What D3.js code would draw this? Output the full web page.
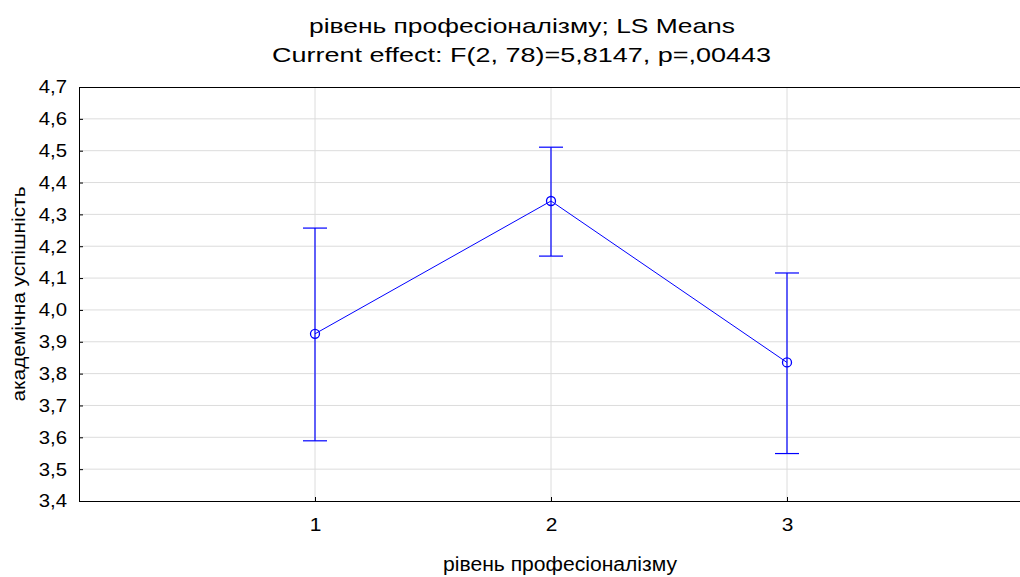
<!DOCTYPE html>
<html><head><meta charset="utf-8">
<script src="https://cdn.jsdelivr.net/npm/d3@7"></script>
<style>body{margin:0;background:#fff;} text{font-family:Arial,"Liberation Sans",sans-serif;}</style>
</head><body>
<svg id="c" width="1020" height="577"></svg>
<script>
const categories = [1, 2, 3];
const means = [3.925, 4.342, 3.835];
const upper = [4.257, 4.511, 4.116];
const lower = [3.589, 4.169, 3.549];
const yTicks = [3.4,3.5,3.6,3.7,3.8,3.9,4.0,4.1,4.2,4.3,4.4,4.5,4.6,4.7];
const titleLines = ["рівень професіоналізму; LS Means", "Current effect: F(2, 78)=5,8147, p=,00443"];
const xTitle = "рівень професіоналізму";
const yTitle = "академічна успішність";

const svg = d3.select("#c");
const L = 79, R = 1023, T = 87, B = 501;
const x = d3.scaleLinear().domain([0, 4]).range([L, R]);
const y = d3.scaleLinear().domain([3.4, 4.7]).range([B, T]);
const fmt = d => d.toFixed(1).replace(".", ",");
const FF = "Arial,'Liberation Sans',sans-serif";

function stretch(sel, k) {
  sel.each(function () {
    const w = this.getComputedTextLength();
    d3.select(this).attr("textLength", w * k).attr("lengthAdjust", "spacingAndGlyphs");
  });
}
function fitTo(sel, w) {
  sel.attr("textLength", w).attr("lengthAdjust", "spacingAndGlyphs");
}

// grid
svg.append("g").selectAll("line").data(yTicks.slice(1, -1)).join("line")
  .attr("x1", L).attr("x2", R).attr("y1", d => y(d)).attr("y2", d => y(d))
  .attr("stroke", "#dcdcdc").attr("stroke-width", 1);
svg.append("g").selectAll("line").data(categories).join("line")
  .attr("y1", T).attr("y2", B).attr("x1", d => x(d)).attr("x2", d => x(d))
  .attr("stroke", "#dcdcdc").attr("stroke-width", 1);

// axes
const yAxis = d3.axisLeft(y).tickValues(yTicks).tickFormat(fmt).tickSizeInner(-4).tickSizeOuter(0).tickPadding(12);
const gy = svg.append("g").attr("transform", `translate(${L},0)`).call(yAxis);
gy.selectAll("text").attr("font-size", 18.5).attr("fill", "#000").attr("font-family", FF);
stretch(gy.selectAll("text"), 1.1);
gy.select(".domain").attr("stroke", "#000");
const xAxis = d3.axisBottom(x).tickValues(categories).tickFormat(d3.format("d")).tickSizeInner(-4).tickSizeOuter(0).tickPadding(17);
const gx = svg.append("g").attr("transform", `translate(0,${B})`).call(xAxis);
gx.selectAll("text").attr("font-size", 19).attr("fill", "#000").attr("font-family", FF);
stretch(gx.selectAll("text"), 1.1);
gx.select(".domain").attr("stroke", "#000");
svg.append("line").attr("x1", L).attr("x2", R).attr("y1", T + 0.5).attr("y2", T + 0.5).attr("stroke", "#000");

// error bars
const blue = "#0000ff";
const eb = svg.append("g").attr("stroke", blue).attr("stroke-width", 1.2);
categories.forEach((c, i) => {
  eb.append("line").attr("x1", x(c)).attr("x2", x(c)).attr("y1", y(upper[i])).attr("y2", y(lower[i]));
  eb.append("line").attr("x1", x(c) - 12).attr("x2", x(c) + 12).attr("y1", y(upper[i])).attr("y2", y(upper[i]));
  eb.append("line").attr("x1", x(c) - 12).attr("x2", x(c) + 12).attr("y1", y(lower[i])).attr("y2", y(lower[i]));
});
const line = d3.line().x((d, i) => x(categories[i])).y(d => y(d));
svg.append("path").datum(means).attr("d", line).attr("fill", "none").attr("stroke", blue).attr("stroke-width", 1);
svg.append("g").selectAll("circle").data(means).join("circle")
  .attr("cx", (d, i) => x(categories[i])).attr("cy", d => y(d)).attr("r", 4.5)
  .attr("fill", "none").attr("stroke", blue).attr("stroke-width", 1.3);

// titles
fitTo(svg.append("text").attr("x", 522).attr("y", 33).attr("text-anchor", "middle").attr("font-size", 21).text(titleLines[0]), 426);
fitTo(svg.append("text").attr("x", 521.5).attr("y", 62).attr("text-anchor", "middle").attr("font-size", 21).text(titleLines[1]), 499);
fitTo(svg.append("text").attr("x", 560).attr("y", 571).attr("text-anchor", "middle").attr("font-size", 20).text(xTitle), 234);
fitTo(svg.append("text").attr("transform", `translate(25,${(T + B) / 2}) rotate(-90)`).attr("text-anchor", "middle").attr("font-size", 19).text(yTitle), 215);
</script>
</body></html>
